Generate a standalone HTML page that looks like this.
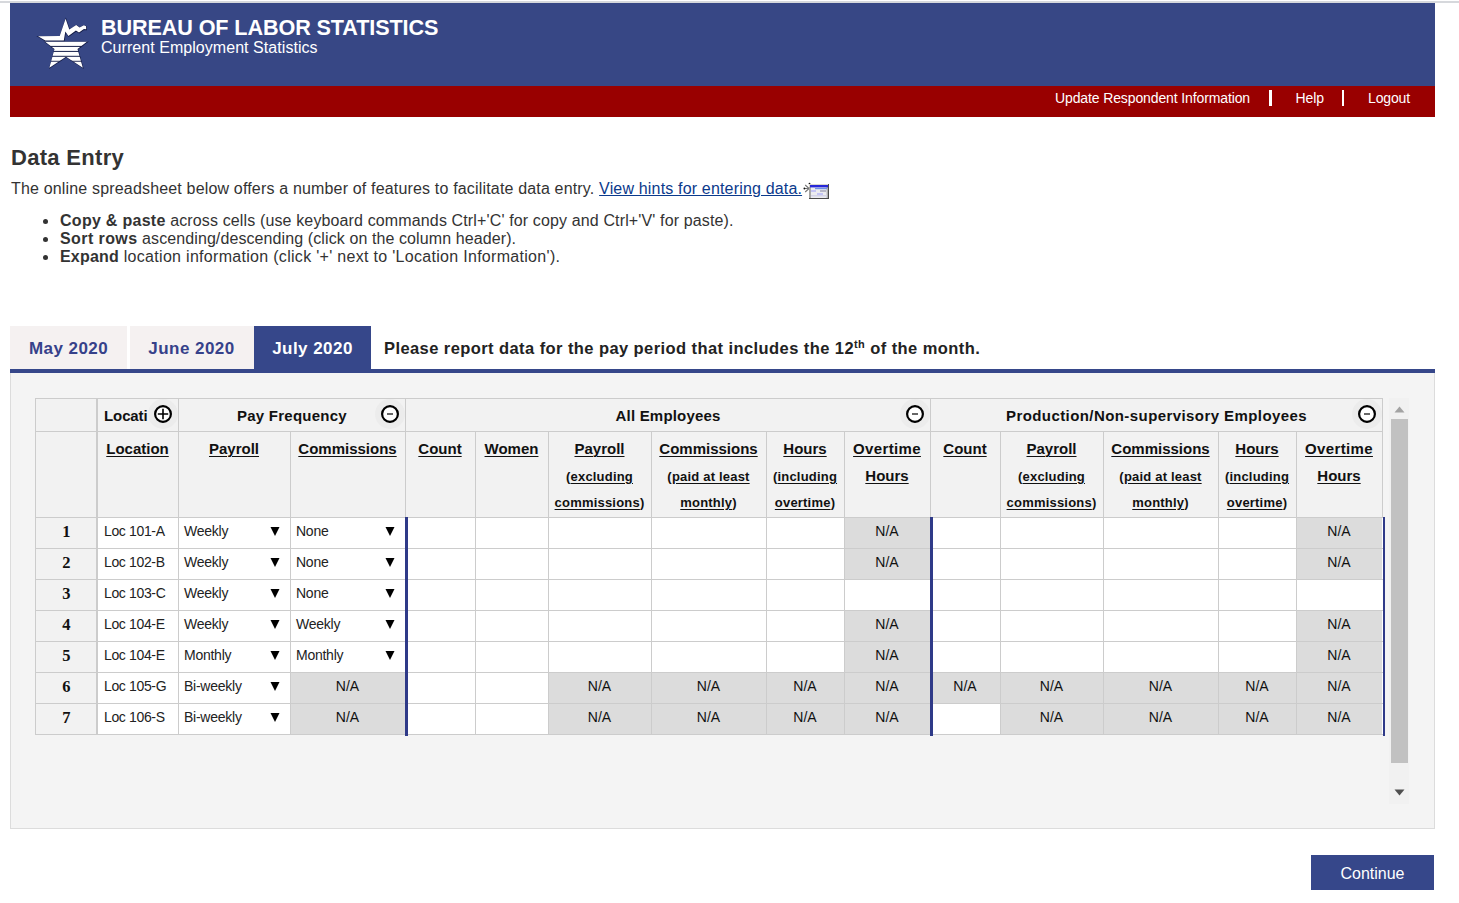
<!DOCTYPE html>
<html><head><meta charset="utf-8"><style>
html,body{margin:0;padding:0;background:#fff;}
body{width:1459px;height:903px;position:relative;overflow:hidden;font-family:'Liberation Sans', sans-serif;}
.t{position:absolute;white-space:nowrap;}
.r{position:absolute;}
u{text-decoration:underline;text-decoration-thickness:1px;text-underline-offset:1.5px;}
</style></head><body>
<div class="r" style="left:0px;top:1px;width:1459px;height:2px;background:#d6d8dc;"></div>
<div class="r" style="left:10px;top:3px;width:1425px;height:83px;background:#374785;"></div>
<div class="r" style="left:10px;top:86px;width:1425px;height:31px;background:#990000;"></div>
<svg class="r" style="left:0;top:0" width="120" height="80" viewBox="0 0 120 80">
<defs>
<clipPath id="stc"><polygon points="66,19 72.1,36.3 94,36.3 77.5,49 82.8,67.8 66,56.7 49.4,67.8 54.5,49 38,36.3 59.9,36.3"/></clipPath><clipPath id="stc2"><polygon transform="translate(66,47) scale(1.045) translate(-66,-47)" points="66,19 72.1,36.3 94,36.3 77.5,49 82.8,67.8 66,56.7 49.4,67.8 54.5,49 38,36.3 59.9,36.3"/></clipPath>
<filter id="sh" x="-20%" y="-20%" width="140%" height="140%"><feMorphology in="SourceAlpha" operator="dilate" radius="0.45" result="d"/><feGaussianBlur in="d" stdDeviation="0.45" result="b"/><feFlood flood-color="#0a1030" flood-opacity="0.85"/><feComposite in2="b" operator="in" result="s"/><feMerge><feMergeNode in="s"/><feMergeNode in="SourceGraphic"/></feMerge></filter>
</defs>
<g transform="translate(0.25,0.35)">
<polygon fill="#0c1235" stroke="#0c1235" stroke-width="1.1" stroke-opacity="0.75" fill-opacity="0.75" points="38,36.2 59.7,36.0 65.6,18.8 69.3,29.6 76.2,25.0 79.6,27.5 83.9,25.3 86.1,26.2 86.2,29.3 83.9,29.0 79.0,32.4 75.9,30.6 68.4,35.9 65.3,31.5 63.8,40.5 45.3,40.5"/>
<g clip-path="url(#stc2)" fill="#0c1235" stroke="#0c1235" stroke-width="1.1" stroke-opacity="0.75" fill-opacity="0.75">
<rect x="30" y="41.8" width="70" height="4.1"/>
<rect x="30" y="46.9" width="70" height="4.0"/>
<rect x="30" y="51.9" width="70" height="3.9"/>
<rect x="30" y="56.8" width="70" height="4.0"/>
<rect x="30" y="61.7" width="70" height="8"/>
</g>
</g><g>
<polygon fill="#fff" points="38,36.2 59.7,36.0 65.6,18.8 69.3,29.6 76.2,25.0 79.6,27.5 83.9,25.3 86.1,26.2 86.2,29.3 83.9,29.0 79.0,32.4 75.9,30.6 68.4,35.9 65.3,31.5 63.8,40.5 45.3,40.5"/>
<g clip-path="url(#stc)" fill="#fff">
<rect x="30" y="41.8" width="70" height="4.1"/>
<rect x="30" y="46.9" width="70" height="4.0"/>
<rect x="30" y="51.9" width="70" height="3.9"/>
<rect x="30" y="56.8" width="70" height="4.0"/>
<rect x="30" y="61.7" width="70" height="8"/>
</g>
</g>
</svg>
<div class="t" style="left:101px;top:17.32px;font-size:21.6px;line-height:21.6px;font-weight:bold;color:#fff;font-family:'Liberation Sans', sans-serif;letter-spacing:-0.1px;">BUREAU OF LABOR STATISTICS</div>
<div class="t" style="left:101px;top:40.46px;font-size:16px;line-height:16px;font-weight:normal;color:#fff;font-family:'Liberation Sans', sans-serif;letter-spacing:0.05px;">Current Employment Statistics</div>
<div class="t" style="left:1055px;top:90.95px;font-size:14px;line-height:14px;font-weight:normal;color:#fff;font-family:'Liberation Sans', sans-serif;letter-spacing:-0.12px;">Update Respondent Information</div>
<div class="r" style="left:1269px;top:90px;width:2.5px;height:16px;background:#fff;"></div>
<div class="t" style="left:1295.5px;top:90.95px;font-size:14px;line-height:14px;font-weight:normal;color:#fff;font-family:'Liberation Sans', sans-serif;letter-spacing:-0.1px;">Help</div>
<div class="r" style="left:1341.5px;top:90px;width:2.5px;height:16px;background:#fff;"></div>
<div class="t" style="left:1368px;top:90.95px;font-size:14px;line-height:14px;font-weight:normal;color:#fff;font-family:'Liberation Sans', sans-serif;letter-spacing:-0.15px;">Logout</div>
<div class="t" style="left:11px;top:147.38px;font-size:22px;line-height:22px;font-weight:bold;color:#333;font-family:'Liberation Sans', sans-serif;letter-spacing:0.3px;">Data Entry</div>
<div class="t" style="left:11px;top:181.46px;font-size:16px;line-height:16px;font-weight:normal;color:#333;font-family:'Liberation Sans', sans-serif;letter-spacing:0.17px;">The online spreadsheet below offers a number of features to facilitate data entry. <span style="color:#0b3a8c;text-decoration:underline;">View hints for entering data.</span></div>
<svg class="r" style="left:800px;top:178px" width="34" height="24" viewBox="0 0 34 24">
<path d="M9 10.5 L5.2 7 M9 10.5 L4 10.5 M9 10.5 L5.2 14" stroke="#777" stroke-width="1.1" fill="none"/>
<circle cx="9.5" cy="5.6" r="0.9" fill="#111"/><circle cx="4.4" cy="10.5" r="0.9" fill="#111"/>
<rect x="9" y="6" width="20" height="15" fill="#4a4a4a"/>
<rect x="9" y="6" width="19" height="14" fill="#d9d6cc"/>
<rect x="10" y="7" width="18" height="13" fill="#ececf0"/><rect x="9.2" y="9" width="1.6" height="11" fill="#9a9a9a"/><rect x="26.6" y="9" width="1.4" height="11" fill="#b0b0b0"/>
<rect x="10" y="7" width="18" height="2.4" fill="#2727d8"/>
<rect x="15" y="10" width="12" height="1.2" fill="#6f92e6"/>
<rect x="11" y="12" width="5" height="2" fill="#c4c4f4"/>
<rect x="20" y="12" width="6" height="2" fill="#b8b8c8"/>
<rect x="17" y="15" width="6" height="2" fill="#c4c4f4"/>
<rect x="11" y="17" width="16" height="1.5" fill="#d4d4e8"/>
</svg>
<div class="r" style="left:43px;top:218.89999999999998px;width:5.2px;height:5.2px;border-radius:50%;background:#333"></div>
<div class="t" style="left:60px;top:212.66px;font-size:16px;line-height:16px;font-weight:normal;color:#333;font-family:'Liberation Sans', sans-serif;"><b style="letter-spacing:0.28px">Copy &amp; paste</b><span style="letter-spacing:0.135px"> across cells (use keyboard commands Ctrl+'C' for copy and Ctrl+'V' for paste).</span></div>
<div class="r" style="left:43px;top:236.89999999999998px;width:5.2px;height:5.2px;border-radius:50%;background:#333"></div>
<div class="t" style="left:60px;top:230.66px;font-size:16px;line-height:16px;font-weight:normal;color:#333;font-family:'Liberation Sans', sans-serif;"><b style="letter-spacing:0.41px">Sort rows</b><span style="letter-spacing:0.1px"> ascending/descending (click on the column header).</span></div>
<div class="r" style="left:43px;top:254.89999999999998px;width:5.2px;height:5.2px;border-radius:50%;background:#333"></div>
<div class="t" style="left:60px;top:248.66px;font-size:16px;line-height:16px;font-weight:normal;color:#333;font-family:'Liberation Sans', sans-serif;"><b style="letter-spacing:0.2px">Expand</b><span style="letter-spacing:0.3px"> location information (click '+' next to 'Location Information').</span></div>
<div class="r" style="left:10px;top:326px;width:117px;height:43px;background:#f5f1f1;"></div>
<div class="r" style="left:130px;top:326px;width:124px;height:43px;background:#f5f1f1;"></div>
<div class="r" style="left:254px;top:326px;width:117px;height:43px;background:#36478a;"></div>
<div class="t" style="left:10.0px;width:117px;text-align:center;top:339.61px;font-size:17px;line-height:17px;font-weight:bold;color:#36418a;font-family:'Liberation Sans', sans-serif;letter-spacing:0.45px;">May 2020</div>
<div class="t" style="left:129.5px;width:124px;text-align:center;top:339.61px;font-size:17px;line-height:17px;font-weight:bold;color:#36418a;font-family:'Liberation Sans', sans-serif;letter-spacing:0.45px;">June 2020</div>
<div class="t" style="left:254.0px;width:117px;text-align:center;top:339.61px;font-size:17px;line-height:17px;font-weight:bold;color:#fff;font-family:'Liberation Sans', sans-serif;letter-spacing:0.45px;">July 2020</div>
<div class="t" style="left:384px;top:339.63px;font-size:16.5px;line-height:16.5px;font-weight:bold;color:#222;font-family:'Liberation Sans', sans-serif;letter-spacing:0.42px;">Please report data for the pay period that includes the 12<sup style="font-size:11px;vertical-align:6px;line-height:0">th</sup> of the month.</div>
<div class="r" style="left:10px;top:369px;width:1425px;height:4px;background:#36478a;"></div>
<div class="r" style="left:10px;top:373px;width:1425px;height:456px;background:#f4f4f4;box-sizing:border-box;border:1px solid #dcdcdc;border-top:none;"></div>
<div class="r" style="left:35px;top:398px;width:1348px;height:120px;background:#f2f2f2;"></div>
<div class="r" style="left:35px;top:517px;width:1348px;height:217px;background:#fff;"></div>
<div class="r" style="left:35px;top:517px;width:62px;height:217px;background:#f2f2f2;"></div>
<div class="t" style="left:46.3px;width:40px;text-align:center;top:524.03px;font-size:16.5px;line-height:16.5px;font-weight:bold;color:#111;font-family:'Liberation Serif', serif;">1</div>
<div class="t" style="left:104px;top:524.15px;font-size:14px;line-height:14px;font-weight:normal;color:#222;font-family:'Liberation Sans', sans-serif;letter-spacing:-0.35px;">Loc 101-A</div>
<div class="t" style="left:184px;top:524.15px;font-size:14px;line-height:14px;font-weight:normal;color:#222;font-family:'Liberation Sans', sans-serif;letter-spacing:-0.25px;">Weekly</div>
<svg class="r" style="left:270px;top:527px" width="10" height="10"><polygon points="0.5,0 9.5,0 5,9" fill="#000"/></svg>
<div class="t" style="left:296px;top:524.15px;font-size:14px;line-height:14px;font-weight:normal;color:#222;font-family:'Liberation Sans', sans-serif;letter-spacing:-0.25px;">None</div>
<svg class="r" style="left:385px;top:527px" width="10" height="10"><polygon points="0.5,0 9.5,0 5,9" fill="#000"/></svg>
<div class="r" style="left:844px;top:517px;width:86px;height:31px;background:#dcdcdc;"></div>
<div class="t" style="left:837.0px;width:100px;text-align:center;top:524.15px;font-size:14px;line-height:14px;font-weight:normal;color:#111;font-family:'Liberation Sans', sans-serif;">N/A</div>
<div class="r" style="left:1296px;top:517px;width:86px;height:31px;background:#dcdcdc;"></div>
<div class="t" style="left:1289.0px;width:100px;text-align:center;top:524.15px;font-size:14px;line-height:14px;font-weight:normal;color:#111;font-family:'Liberation Sans', sans-serif;">N/A</div>
<div class="t" style="left:46.3px;width:40px;text-align:center;top:555.03px;font-size:16.5px;line-height:16.5px;font-weight:bold;color:#111;font-family:'Liberation Serif', serif;">2</div>
<div class="t" style="left:104px;top:555.15px;font-size:14px;line-height:14px;font-weight:normal;color:#222;font-family:'Liberation Sans', sans-serif;letter-spacing:-0.35px;">Loc 102-B</div>
<div class="t" style="left:184px;top:555.15px;font-size:14px;line-height:14px;font-weight:normal;color:#222;font-family:'Liberation Sans', sans-serif;letter-spacing:-0.25px;">Weekly</div>
<svg class="r" style="left:270px;top:558px" width="10" height="10"><polygon points="0.5,0 9.5,0 5,9" fill="#000"/></svg>
<div class="t" style="left:296px;top:555.15px;font-size:14px;line-height:14px;font-weight:normal;color:#222;font-family:'Liberation Sans', sans-serif;letter-spacing:-0.25px;">None</div>
<svg class="r" style="left:385px;top:558px" width="10" height="10"><polygon points="0.5,0 9.5,0 5,9" fill="#000"/></svg>
<div class="r" style="left:844px;top:548px;width:86px;height:31px;background:#dcdcdc;"></div>
<div class="t" style="left:837.0px;width:100px;text-align:center;top:555.15px;font-size:14px;line-height:14px;font-weight:normal;color:#111;font-family:'Liberation Sans', sans-serif;">N/A</div>
<div class="r" style="left:1296px;top:548px;width:86px;height:31px;background:#dcdcdc;"></div>
<div class="t" style="left:1289.0px;width:100px;text-align:center;top:555.15px;font-size:14px;line-height:14px;font-weight:normal;color:#111;font-family:'Liberation Sans', sans-serif;">N/A</div>
<div class="t" style="left:46.3px;width:40px;text-align:center;top:586.03px;font-size:16.5px;line-height:16.5px;font-weight:bold;color:#111;font-family:'Liberation Serif', serif;">3</div>
<div class="t" style="left:104px;top:586.15px;font-size:14px;line-height:14px;font-weight:normal;color:#222;font-family:'Liberation Sans', sans-serif;letter-spacing:-0.35px;">Loc 103-C</div>
<div class="t" style="left:184px;top:586.15px;font-size:14px;line-height:14px;font-weight:normal;color:#222;font-family:'Liberation Sans', sans-serif;letter-spacing:-0.25px;">Weekly</div>
<svg class="r" style="left:270px;top:589px" width="10" height="10"><polygon points="0.5,0 9.5,0 5,9" fill="#000"/></svg>
<div class="t" style="left:296px;top:586.15px;font-size:14px;line-height:14px;font-weight:normal;color:#222;font-family:'Liberation Sans', sans-serif;letter-spacing:-0.25px;">None</div>
<svg class="r" style="left:385px;top:589px" width="10" height="10"><polygon points="0.5,0 9.5,0 5,9" fill="#000"/></svg>
<div class="t" style="left:46.3px;width:40px;text-align:center;top:617.03px;font-size:16.5px;line-height:16.5px;font-weight:bold;color:#111;font-family:'Liberation Serif', serif;">4</div>
<div class="t" style="left:104px;top:617.15px;font-size:14px;line-height:14px;font-weight:normal;color:#222;font-family:'Liberation Sans', sans-serif;letter-spacing:-0.35px;">Loc 104-E</div>
<div class="t" style="left:184px;top:617.15px;font-size:14px;line-height:14px;font-weight:normal;color:#222;font-family:'Liberation Sans', sans-serif;letter-spacing:-0.25px;">Weekly</div>
<svg class="r" style="left:270px;top:620px" width="10" height="10"><polygon points="0.5,0 9.5,0 5,9" fill="#000"/></svg>
<div class="t" style="left:296px;top:617.15px;font-size:14px;line-height:14px;font-weight:normal;color:#222;font-family:'Liberation Sans', sans-serif;letter-spacing:-0.25px;">Weekly</div>
<svg class="r" style="left:385px;top:620px" width="10" height="10"><polygon points="0.5,0 9.5,0 5,9" fill="#000"/></svg>
<div class="r" style="left:844px;top:610px;width:86px;height:31px;background:#dcdcdc;"></div>
<div class="t" style="left:837.0px;width:100px;text-align:center;top:617.15px;font-size:14px;line-height:14px;font-weight:normal;color:#111;font-family:'Liberation Sans', sans-serif;">N/A</div>
<div class="r" style="left:1296px;top:610px;width:86px;height:31px;background:#dcdcdc;"></div>
<div class="t" style="left:1289.0px;width:100px;text-align:center;top:617.15px;font-size:14px;line-height:14px;font-weight:normal;color:#111;font-family:'Liberation Sans', sans-serif;">N/A</div>
<div class="t" style="left:46.3px;width:40px;text-align:center;top:648.03px;font-size:16.5px;line-height:16.5px;font-weight:bold;color:#111;font-family:'Liberation Serif', serif;">5</div>
<div class="t" style="left:104px;top:648.15px;font-size:14px;line-height:14px;font-weight:normal;color:#222;font-family:'Liberation Sans', sans-serif;letter-spacing:-0.35px;">Loc 104-E</div>
<div class="t" style="left:184px;top:648.15px;font-size:14px;line-height:14px;font-weight:normal;color:#222;font-family:'Liberation Sans', sans-serif;letter-spacing:-0.25px;">Monthly</div>
<svg class="r" style="left:270px;top:651px" width="10" height="10"><polygon points="0.5,0 9.5,0 5,9" fill="#000"/></svg>
<div class="t" style="left:296px;top:648.15px;font-size:14px;line-height:14px;font-weight:normal;color:#222;font-family:'Liberation Sans', sans-serif;letter-spacing:-0.25px;">Monthly</div>
<svg class="r" style="left:385px;top:651px" width="10" height="10"><polygon points="0.5,0 9.5,0 5,9" fill="#000"/></svg>
<div class="r" style="left:844px;top:641px;width:86px;height:31px;background:#dcdcdc;"></div>
<div class="t" style="left:837.0px;width:100px;text-align:center;top:648.15px;font-size:14px;line-height:14px;font-weight:normal;color:#111;font-family:'Liberation Sans', sans-serif;">N/A</div>
<div class="r" style="left:1296px;top:641px;width:86px;height:31px;background:#dcdcdc;"></div>
<div class="t" style="left:1289.0px;width:100px;text-align:center;top:648.15px;font-size:14px;line-height:14px;font-weight:normal;color:#111;font-family:'Liberation Sans', sans-serif;">N/A</div>
<div class="t" style="left:46.3px;width:40px;text-align:center;top:679.03px;font-size:16.5px;line-height:16.5px;font-weight:bold;color:#111;font-family:'Liberation Serif', serif;">6</div>
<div class="t" style="left:104px;top:679.15px;font-size:14px;line-height:14px;font-weight:normal;color:#222;font-family:'Liberation Sans', sans-serif;letter-spacing:-0.35px;">Loc 105-G</div>
<div class="t" style="left:184px;top:679.15px;font-size:14px;line-height:14px;font-weight:normal;color:#222;font-family:'Liberation Sans', sans-serif;letter-spacing:-0.25px;">Bi-weekly</div>
<svg class="r" style="left:270px;top:682px" width="10" height="10"><polygon points="0.5,0 9.5,0 5,9" fill="#000"/></svg>
<div class="r" style="left:290px;top:672px;width:115px;height:31px;background:#dcdcdc;"></div>
<div class="t" style="left:297.5px;width:100px;text-align:center;top:679.15px;font-size:14px;line-height:14px;font-weight:normal;color:#111;font-family:'Liberation Sans', sans-serif;">N/A</div>
<div class="r" style="left:548px;top:672px;width:103px;height:31px;background:#dcdcdc;"></div>
<div class="t" style="left:549.5px;width:100px;text-align:center;top:679.15px;font-size:14px;line-height:14px;font-weight:normal;color:#111;font-family:'Liberation Sans', sans-serif;">N/A</div>
<div class="r" style="left:651px;top:672px;width:115px;height:31px;background:#dcdcdc;"></div>
<div class="t" style="left:658.5px;width:100px;text-align:center;top:679.15px;font-size:14px;line-height:14px;font-weight:normal;color:#111;font-family:'Liberation Sans', sans-serif;">N/A</div>
<div class="r" style="left:766px;top:672px;width:78px;height:31px;background:#dcdcdc;"></div>
<div class="t" style="left:755.0px;width:100px;text-align:center;top:679.15px;font-size:14px;line-height:14px;font-weight:normal;color:#111;font-family:'Liberation Sans', sans-serif;">N/A</div>
<div class="r" style="left:844px;top:672px;width:86px;height:31px;background:#dcdcdc;"></div>
<div class="t" style="left:837.0px;width:100px;text-align:center;top:679.15px;font-size:14px;line-height:14px;font-weight:normal;color:#111;font-family:'Liberation Sans', sans-serif;">N/A</div>
<div class="r" style="left:930px;top:672px;width:70px;height:31px;background:#dcdcdc;"></div>
<div class="t" style="left:915.0px;width:100px;text-align:center;top:679.15px;font-size:14px;line-height:14px;font-weight:normal;color:#111;font-family:'Liberation Sans', sans-serif;">N/A</div>
<div class="r" style="left:1000px;top:672px;width:103px;height:31px;background:#dcdcdc;"></div>
<div class="t" style="left:1001.5px;width:100px;text-align:center;top:679.15px;font-size:14px;line-height:14px;font-weight:normal;color:#111;font-family:'Liberation Sans', sans-serif;">N/A</div>
<div class="r" style="left:1103px;top:672px;width:115px;height:31px;background:#dcdcdc;"></div>
<div class="t" style="left:1110.5px;width:100px;text-align:center;top:679.15px;font-size:14px;line-height:14px;font-weight:normal;color:#111;font-family:'Liberation Sans', sans-serif;">N/A</div>
<div class="r" style="left:1218px;top:672px;width:78px;height:31px;background:#dcdcdc;"></div>
<div class="t" style="left:1207.0px;width:100px;text-align:center;top:679.15px;font-size:14px;line-height:14px;font-weight:normal;color:#111;font-family:'Liberation Sans', sans-serif;">N/A</div>
<div class="r" style="left:1296px;top:672px;width:86px;height:31px;background:#dcdcdc;"></div>
<div class="t" style="left:1289.0px;width:100px;text-align:center;top:679.15px;font-size:14px;line-height:14px;font-weight:normal;color:#111;font-family:'Liberation Sans', sans-serif;">N/A</div>
<div class="t" style="left:46.3px;width:40px;text-align:center;top:710.03px;font-size:16.5px;line-height:16.5px;font-weight:bold;color:#111;font-family:'Liberation Serif', serif;">7</div>
<div class="t" style="left:104px;top:710.15px;font-size:14px;line-height:14px;font-weight:normal;color:#222;font-family:'Liberation Sans', sans-serif;letter-spacing:-0.35px;">Loc 106-S</div>
<div class="t" style="left:184px;top:710.15px;font-size:14px;line-height:14px;font-weight:normal;color:#222;font-family:'Liberation Sans', sans-serif;letter-spacing:-0.25px;">Bi-weekly</div>
<svg class="r" style="left:270px;top:713px" width="10" height="10"><polygon points="0.5,0 9.5,0 5,9" fill="#000"/></svg>
<div class="r" style="left:290px;top:703px;width:115px;height:31px;background:#dcdcdc;"></div>
<div class="t" style="left:297.5px;width:100px;text-align:center;top:710.15px;font-size:14px;line-height:14px;font-weight:normal;color:#111;font-family:'Liberation Sans', sans-serif;">N/A</div>
<div class="r" style="left:548px;top:703px;width:103px;height:31px;background:#dcdcdc;"></div>
<div class="t" style="left:549.5px;width:100px;text-align:center;top:710.15px;font-size:14px;line-height:14px;font-weight:normal;color:#111;font-family:'Liberation Sans', sans-serif;">N/A</div>
<div class="r" style="left:651px;top:703px;width:115px;height:31px;background:#dcdcdc;"></div>
<div class="t" style="left:658.5px;width:100px;text-align:center;top:710.15px;font-size:14px;line-height:14px;font-weight:normal;color:#111;font-family:'Liberation Sans', sans-serif;">N/A</div>
<div class="r" style="left:766px;top:703px;width:78px;height:31px;background:#dcdcdc;"></div>
<div class="t" style="left:755.0px;width:100px;text-align:center;top:710.15px;font-size:14px;line-height:14px;font-weight:normal;color:#111;font-family:'Liberation Sans', sans-serif;">N/A</div>
<div class="r" style="left:844px;top:703px;width:86px;height:31px;background:#dcdcdc;"></div>
<div class="t" style="left:837.0px;width:100px;text-align:center;top:710.15px;font-size:14px;line-height:14px;font-weight:normal;color:#111;font-family:'Liberation Sans', sans-serif;">N/A</div>
<div class="r" style="left:1000px;top:703px;width:103px;height:31px;background:#dcdcdc;"></div>
<div class="t" style="left:1001.5px;width:100px;text-align:center;top:710.15px;font-size:14px;line-height:14px;font-weight:normal;color:#111;font-family:'Liberation Sans', sans-serif;">N/A</div>
<div class="r" style="left:1103px;top:703px;width:115px;height:31px;background:#dcdcdc;"></div>
<div class="t" style="left:1110.5px;width:100px;text-align:center;top:710.15px;font-size:14px;line-height:14px;font-weight:normal;color:#111;font-family:'Liberation Sans', sans-serif;">N/A</div>
<div class="r" style="left:1218px;top:703px;width:78px;height:31px;background:#dcdcdc;"></div>
<div class="t" style="left:1207.0px;width:100px;text-align:center;top:710.15px;font-size:14px;line-height:14px;font-weight:normal;color:#111;font-family:'Liberation Sans', sans-serif;">N/A</div>
<div class="r" style="left:1296px;top:703px;width:86px;height:31px;background:#dcdcdc;"></div>
<div class="t" style="left:1289.0px;width:100px;text-align:center;top:710.15px;font-size:14px;line-height:14px;font-weight:normal;color:#111;font-family:'Liberation Sans', sans-serif;">N/A</div>
<div class="r" style="left:35px;top:398px;width:1348px;height:1px;background:#cccccc;"></div>
<div class="r" style="left:35px;top:431px;width:1348px;height:1px;background:#cccccc;"></div>
<div class="r" style="left:35px;top:517px;width:1348px;height:1px;background:#cccccc;"></div>
<div class="r" style="left:35px;top:548px;width:1348px;height:1px;background:#cccccc;"></div>
<div class="r" style="left:35px;top:579px;width:1348px;height:1px;background:#cccccc;"></div>
<div class="r" style="left:35px;top:610px;width:1348px;height:1px;background:#cccccc;"></div>
<div class="r" style="left:35px;top:641px;width:1348px;height:1px;background:#cccccc;"></div>
<div class="r" style="left:35px;top:672px;width:1348px;height:1px;background:#cccccc;"></div>
<div class="r" style="left:35px;top:703px;width:1348px;height:1px;background:#cccccc;"></div>
<div class="r" style="left:35px;top:734px;width:1348px;height:1px;background:#cccccc;"></div>
<div class="r" style="left:35px;top:398px;width:1px;height:337px;background:#cccccc;"></div>
<div class="r" style="left:96px;top:398px;width:2px;height:337px;background:#cccccc;"></div>
<div class="r" style="left:178px;top:398px;width:1px;height:337px;background:#cccccc;"></div>
<div class="r" style="left:290px;top:431px;width:1px;height:304px;background:#cccccc;"></div>
<div class="r" style="left:405px;top:398px;width:1px;height:337px;background:#cccccc;"></div>
<div class="r" style="left:475px;top:431px;width:1px;height:304px;background:#cccccc;"></div>
<div class="r" style="left:548px;top:431px;width:1px;height:304px;background:#cccccc;"></div>
<div class="r" style="left:651px;top:431px;width:1px;height:304px;background:#cccccc;"></div>
<div class="r" style="left:766px;top:431px;width:1px;height:304px;background:#cccccc;"></div>
<div class="r" style="left:844px;top:431px;width:1px;height:304px;background:#cccccc;"></div>
<div class="r" style="left:930px;top:398px;width:1px;height:337px;background:#cccccc;"></div>
<div class="r" style="left:1000px;top:431px;width:1px;height:304px;background:#cccccc;"></div>
<div class="r" style="left:1103px;top:431px;width:1px;height:304px;background:#cccccc;"></div>
<div class="r" style="left:1218px;top:431px;width:1px;height:304px;background:#cccccc;"></div>
<div class="r" style="left:1296px;top:431px;width:1px;height:304px;background:#cccccc;"></div>
<div class="r" style="left:1382px;top:398px;width:1px;height:120px;background:#cccccc;"></div>
<div class="r" style="left:405px;top:517px;width:3px;height:219px;background:#2f3a88;"></div>
<div class="r" style="left:930px;top:517px;width:3px;height:219px;background:#2f3a88;"></div>
<div class="r" style="left:1383px;top:517px;width:2px;height:219px;background:#2f3a88;"></div>
<div class="t" style="left:104px;top:408.30px;font-size:15px;line-height:15px;font-weight:bold;color:#111;font-family:'Liberation Sans', sans-serif;letter-spacing:-0.1px;">Locati</div>
<div class="r" style="left:148px;top:399px;width:30px;height:30px;border-radius:50%;background:#ececec"></div>
<svg class="r" style="left:153px;top:404px" width="20" height="20" viewBox="-10 -10 20 20"><circle r="7.9" fill="#fff" stroke="#000" stroke-width="2.2"/><path d="M-5.2 0H5.2M0 -5.2V5.2" stroke="#000" stroke-width="1.6"/></svg>
<div class="t" style="left:237px;top:408.30px;font-size:15px;line-height:15px;font-weight:bold;color:#111;font-family:'Liberation Sans', sans-serif;letter-spacing:0.25px;">Pay Frequency</div>
<div class="r" style="left:375px;top:399px;width:30px;height:30px;border-radius:50%;background:#ececec"></div>
<svg class="r" style="left:380px;top:404px" width="20" height="20" viewBox="-10 -10 20 20"><circle r="7.9" fill="#fff" stroke="#000" stroke-width="2.2"/><path d="M-3 0H3" stroke="#000" stroke-width="1.2"/></svg>
<div class="t" style="left:615.5px;top:408.30px;font-size:15px;line-height:15px;font-weight:bold;color:#111;font-family:'Liberation Sans', sans-serif;letter-spacing:0.2px;">All Employees</div>
<div class="r" style="left:899.5px;top:399px;width:30px;height:30px;border-radius:50%;background:#ececec"></div>
<svg class="r" style="left:904.5px;top:404px" width="20" height="20" viewBox="-10 -10 20 20"><circle r="7.9" fill="#fff" stroke="#000" stroke-width="2.2"/><path d="M-3 0H3" stroke="#000" stroke-width="1.2"/></svg>
<div class="t" style="left:1006px;top:408.30px;font-size:15px;line-height:15px;font-weight:bold;color:#111;font-family:'Liberation Sans', sans-serif;letter-spacing:0.42px;">Production/Non-supervisory Employees</div>
<div class="r" style="left:1352px;top:399px;width:30px;height:30px;border-radius:50%;background:#ececec"></div>
<svg class="r" style="left:1357px;top:404px" width="20" height="20" viewBox="-10 -10 20 20"><circle r="7.9" fill="#fff" stroke="#000" stroke-width="2.2"/><path d="M-3 0H3" stroke="#000" stroke-width="1.2"/></svg>
<div class="t" style="left:87.0px;width:101px;text-align:center;top:441.30px;font-size:15px;line-height:15px;font-weight:bold;color:#111;font-family:'Liberation Sans', sans-serif;"><u>Location</u></div>
<div class="t" style="left:168.0px;width:132px;text-align:center;top:441.30px;font-size:15px;line-height:15px;font-weight:bold;color:#111;font-family:'Liberation Sans', sans-serif;"><u>Payroll</u></div>
<div class="t" style="left:280.0px;width:135px;text-align:center;top:441.30px;font-size:15px;line-height:15px;font-weight:bold;color:#111;font-family:'Liberation Sans', sans-serif;"><u>Commissions</u></div>
<div class="t" style="left:395.0px;width:90px;text-align:center;top:441.30px;font-size:15px;line-height:15px;font-weight:bold;color:#111;font-family:'Liberation Sans', sans-serif;"><u>Count</u></div>
<div class="t" style="left:465.0px;width:93px;text-align:center;top:441.30px;font-size:15px;line-height:15px;font-weight:bold;color:#111;font-family:'Liberation Sans', sans-serif;"><u>Women</u></div>
<div class="t" style="left:538.0px;width:123px;text-align:center;top:441.30px;font-size:15px;line-height:15px;font-weight:bold;color:#111;font-family:'Liberation Sans', sans-serif;"><u>Payroll</u></div>
<div class="t" style="left:538.0px;width:123px;text-align:center;top:469.50px;font-size:13px;line-height:13px;font-weight:bold;color:#111;font-family:'Liberation Sans', sans-serif;letter-spacing:0.2px;">(<u>excluding</u></div>
<div class="t" style="left:538.0px;width:123px;text-align:center;top:496.00px;font-size:13px;line-height:13px;font-weight:bold;color:#111;font-family:'Liberation Sans', sans-serif;letter-spacing:0.2px;"><u>commissions</u>)</div>
<div class="t" style="left:641.0px;width:135px;text-align:center;top:441.30px;font-size:15px;line-height:15px;font-weight:bold;color:#111;font-family:'Liberation Sans', sans-serif;"><u>Commissions</u></div>
<div class="t" style="left:641.0px;width:135px;text-align:center;top:469.50px;font-size:13px;line-height:13px;font-weight:bold;color:#111;font-family:'Liberation Sans', sans-serif;letter-spacing:0.2px;">(<u>paid at least</u></div>
<div class="t" style="left:641.0px;width:135px;text-align:center;top:496.00px;font-size:13px;line-height:13px;font-weight:bold;color:#111;font-family:'Liberation Sans', sans-serif;letter-spacing:0.2px;"><u>monthly</u>)</div>
<div class="t" style="left:756.0px;width:98px;text-align:center;top:441.30px;font-size:15px;line-height:15px;font-weight:bold;color:#111;font-family:'Liberation Sans', sans-serif;"><u>Hours</u></div>
<div class="t" style="left:756.0px;width:98px;text-align:center;top:469.50px;font-size:13px;line-height:13px;font-weight:bold;color:#111;font-family:'Liberation Sans', sans-serif;letter-spacing:0.2px;">(<u>including</u></div>
<div class="t" style="left:756.0px;width:98px;text-align:center;top:496.00px;font-size:13px;line-height:13px;font-weight:bold;color:#111;font-family:'Liberation Sans', sans-serif;letter-spacing:0.2px;"><u>overtime</u>)</div>
<div class="t" style="left:834.0px;width:106px;text-align:center;top:441.30px;font-size:15px;line-height:15px;font-weight:bold;color:#111;font-family:'Liberation Sans', sans-serif;letter-spacing:0.35px;"><u>Overtime</u></div>
<div class="t" style="left:834.0px;width:106px;text-align:center;top:467.80px;font-size:15px;line-height:15px;font-weight:bold;color:#111;font-family:'Liberation Sans', sans-serif;"><u>Hours</u></div>
<div class="t" style="left:920.0px;width:90px;text-align:center;top:441.30px;font-size:15px;line-height:15px;font-weight:bold;color:#111;font-family:'Liberation Sans', sans-serif;"><u>Count</u></div>
<div class="t" style="left:990.0px;width:123px;text-align:center;top:441.30px;font-size:15px;line-height:15px;font-weight:bold;color:#111;font-family:'Liberation Sans', sans-serif;"><u>Payroll</u></div>
<div class="t" style="left:990.0px;width:123px;text-align:center;top:469.50px;font-size:13px;line-height:13px;font-weight:bold;color:#111;font-family:'Liberation Sans', sans-serif;letter-spacing:0.2px;">(<u>excluding</u></div>
<div class="t" style="left:990.0px;width:123px;text-align:center;top:496.00px;font-size:13px;line-height:13px;font-weight:bold;color:#111;font-family:'Liberation Sans', sans-serif;letter-spacing:0.2px;"><u>commissions</u>)</div>
<div class="t" style="left:1093.0px;width:135px;text-align:center;top:441.30px;font-size:15px;line-height:15px;font-weight:bold;color:#111;font-family:'Liberation Sans', sans-serif;"><u>Commissions</u></div>
<div class="t" style="left:1093.0px;width:135px;text-align:center;top:469.50px;font-size:13px;line-height:13px;font-weight:bold;color:#111;font-family:'Liberation Sans', sans-serif;letter-spacing:0.2px;">(<u>paid at least</u></div>
<div class="t" style="left:1093.0px;width:135px;text-align:center;top:496.00px;font-size:13px;line-height:13px;font-weight:bold;color:#111;font-family:'Liberation Sans', sans-serif;letter-spacing:0.2px;"><u>monthly</u>)</div>
<div class="t" style="left:1208.0px;width:98px;text-align:center;top:441.30px;font-size:15px;line-height:15px;font-weight:bold;color:#111;font-family:'Liberation Sans', sans-serif;"><u>Hours</u></div>
<div class="t" style="left:1208.0px;width:98px;text-align:center;top:469.50px;font-size:13px;line-height:13px;font-weight:bold;color:#111;font-family:'Liberation Sans', sans-serif;letter-spacing:0.2px;">(<u>including</u></div>
<div class="t" style="left:1208.0px;width:98px;text-align:center;top:496.00px;font-size:13px;line-height:13px;font-weight:bold;color:#111;font-family:'Liberation Sans', sans-serif;letter-spacing:0.2px;"><u>overtime</u>)</div>
<div class="t" style="left:1286.0px;width:106px;text-align:center;top:441.30px;font-size:15px;line-height:15px;font-weight:bold;color:#111;font-family:'Liberation Sans', sans-serif;letter-spacing:0.35px;"><u>Overtime</u></div>
<div class="t" style="left:1286.0px;width:106px;text-align:center;top:467.80px;font-size:15px;line-height:15px;font-weight:bold;color:#111;font-family:'Liberation Sans', sans-serif;"><u>Hours</u></div>
<div class="r" style="left:1389px;top:398px;width:20px;height:406px;background:#f1f1f1;"></div>
<div class="r" style="left:1391px;top:419px;width:17px;height:344px;background:#c1c1c1;"></div>
<svg class="r" style="left:1394px;top:406px" width="11" height="7"><polygon points="0.5,6.5 5.5,0.5 10.5,6.5" fill="#a3a3a3"/></svg>
<svg class="r" style="left:1394px;top:789px" width="11" height="7"><polygon points="0.5,0.5 10.5,0.5 5.5,6.5" fill="#505050"/></svg>
<div class="r" style="left:1311px;top:855px;width:123px;height:35px;background:#36478a;"></div>
<div class="t" style="left:1311.0px;width:123px;text-align:center;top:866.46px;font-size:16px;line-height:16px;font-weight:normal;color:#fff;font-family:'Liberation Sans', sans-serif;">Continue</div>
</body></html>
